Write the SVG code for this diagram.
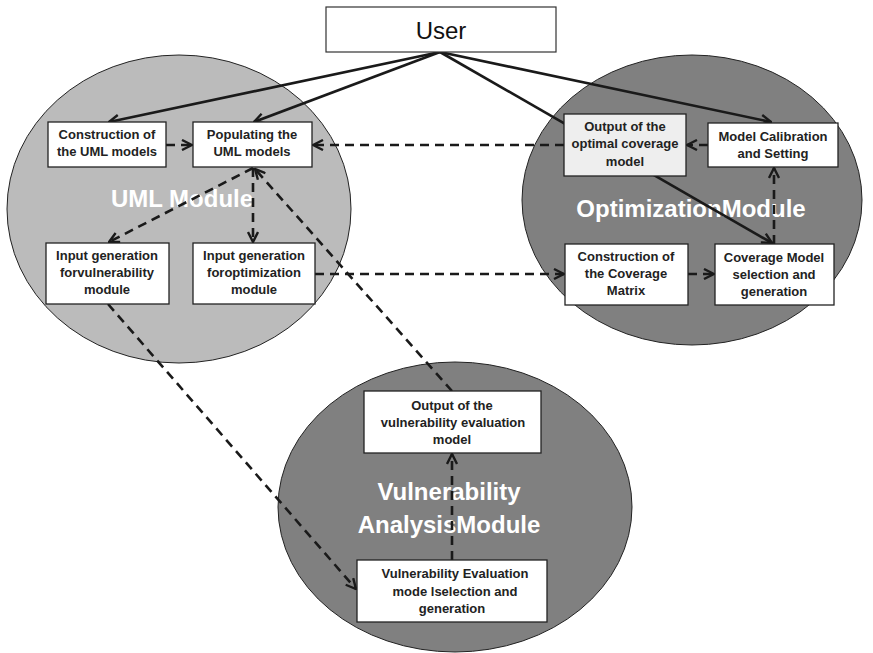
<svg xmlns="http://www.w3.org/2000/svg" width="873" height="653" viewBox="0 0 873 653">
<style>
.box{fill:#ffffff;stroke:#222;stroke-width:1.3}
.lbl{font-family:"Liberation Sans",Arial,sans-serif;font-weight:bold;font-size:13px;fill:#222;text-anchor:middle}
.mod{font-family:"Liberation Sans",Arial,sans-serif;font-weight:bold;font-size:24px;fill:#ffffff;text-anchor:middle}
.solid{stroke:#1a1a1a;stroke-width:2.6;fill:none;marker-end:url(#ah)}
.dash{stroke:#1a1a1a;stroke-width:2.6;fill:none;stroke-dasharray:9 6;marker-end:url(#ah)}
</style>
<defs>
<marker id="ah" viewBox="0 0 12 12" refX="11" refY="6" markerWidth="12" markerHeight="12" markerUnits="userSpaceOnUse" orient="auto">
<path d="M1,1 L11,6 L1,11" fill="none" stroke="#1a1a1a" stroke-width="2.4"/>
</marker>
</defs>
<rect width="873" height="653" fill="#ffffff"/>
<g id="uml-module">
<ellipse cx="179" cy="209" rx="172" ry="154" fill="#bbbbbb" stroke="#222" stroke-width="1"/>
<text class="mod" x="182" y="207">UML Module</text>
</g>
<g id="optimization-module">
<ellipse cx="692" cy="200" rx="170" ry="145" fill="#808080" stroke="#222" stroke-width="1"/>
<text class="mod" x="691" y="217">OptimizationModule</text>
</g>
<g id="vulnerability-module">
<ellipse cx="455" cy="507" rx="177" ry="145" fill="#808080" stroke="#222" stroke-width="1"/>
<text class="mod" x="449" y="500">Vulnerability</text>
<text class="mod" x="449" y="533">AnalysisModule</text>
</g>
<g id="connectors">
<line class="solid" x1="440" y1="52" x2="109" y2="122"/>
<line class="solid" x1="440" y1="52" x2="254" y2="122"/>
<line class="solid" x1="440" y1="52" x2="772" y2="243"/>
<line class="solid" x1="440" y1="52" x2="771" y2="122"/>
<line class="dash" x1="166" y1="145" x2="192" y2="145"/>
<line class="dash" x1="564" y1="145" x2="313" y2="145"/>
<line class="dash" x1="708" y1="145" x2="687" y2="145"/>
<line class="dash" x1="774" y1="244" x2="774" y2="168"/>
<line class="dash" x1="688" y1="274" x2="714" y2="274"/>
<line class="dash" x1="315" y1="274" x2="564" y2="274"/>
<line class="dash" x1="253" y1="168" x2="253" y2="242"/>
<line class="dash" x1="253" y1="168" x2="109" y2="242"/>
<line class="dash" x1="108" y1="304" x2="356" y2="589"/>
<line class="dash" x1="452" y1="391" x2="255" y2="169"/>
<line class="dash" x1="452" y1="560" x2="452" y2="454"/>
</g>
<g id="user">
<rect x="326" y="7" width="230" height="45" fill="#ffffff" stroke="#333" stroke-width="1.2"/>
<text x="441" y="39" font-family="'Liberation Sans',Arial,sans-serif" font-size="24" fill="#111" text-anchor="middle">User</text>
</g>
<g id="construction-uml">
<rect class="box" x="48" y="122" width="118" height="45"/>
<text class="lbl" x="107" y="139">Construction of</text>
<text class="lbl" x="107" y="156">the UML models</text>
</g>
<g id="populating-uml">
<rect class="box" x="193" y="122" width="119" height="45"/>
<text class="lbl" x="252" y="139">Populating the</text>
<text class="lbl" x="252" y="156">UML models</text>
</g>
<g id="input-vuln">
<rect class="box" x="46" y="243" width="123" height="61"/>
<text class="lbl" x="107" y="260">Input generation</text>
<text class="lbl" x="107" y="277">forvulnerability</text>
<text class="lbl" x="107" y="294">module</text>
</g>
<g id="input-opt">
<rect class="box" x="193" y="243" width="122" height="61"/>
<text class="lbl" x="254" y="260">Input generation</text>
<text class="lbl" x="254" y="277">foroptimization</text>
<text class="lbl" x="254" y="294">module</text>
</g>
<g id="output-opt">
<rect class="box" x="564" y="114" width="122" height="62" style="fill:#eeeeee"/>
<text class="lbl" x="625" y="131">Output of the</text>
<text class="lbl" x="625" y="148">optimal coverage</text>
<text class="lbl" x="625" y="166">model</text>
</g>
<g id="model-calibration">
<rect class="box" x="708" y="123" width="130" height="44"/>
<text class="lbl" x="773" y="141">Model Calibration</text>
<text class="lbl" x="773" y="158">and Setting</text>
</g>
<g id="coverage-matrix">
<rect class="box" x="565" y="244" width="123" height="61"/>
<text class="lbl" x="626" y="261">Construction of</text>
<text class="lbl" x="626" y="278">the Coverage</text>
<text class="lbl" x="626" y="295">Matrix</text>
</g>
<g id="coverage-selection">
<rect class="box" x="715" y="244" width="119" height="61"/>
<text class="lbl" x="774" y="262">Coverage Model</text>
<text class="lbl" x="774" y="279">selection and</text>
<text class="lbl" x="774" y="296">generation</text>
</g>
<g id="output-vuln">
<rect class="box" x="364" y="391" width="177" height="62"/>
<text class="lbl" x="452" y="410">Output of the</text>
<text class="lbl" x="453" y="427">vulnerability evaluation</text>
<text class="lbl" x="452" y="444">model</text>
</g>
<g id="vuln-eval">
<rect class="box" x="357" y="560" width="190" height="62"/>
<text class="lbl" x="455" y="578">Vulnerability Evaluation</text>
<text class="lbl" x="455" y="596">mode lselection and</text>
<text class="lbl" x="452" y="613">generation</text>
</g>
</svg>
